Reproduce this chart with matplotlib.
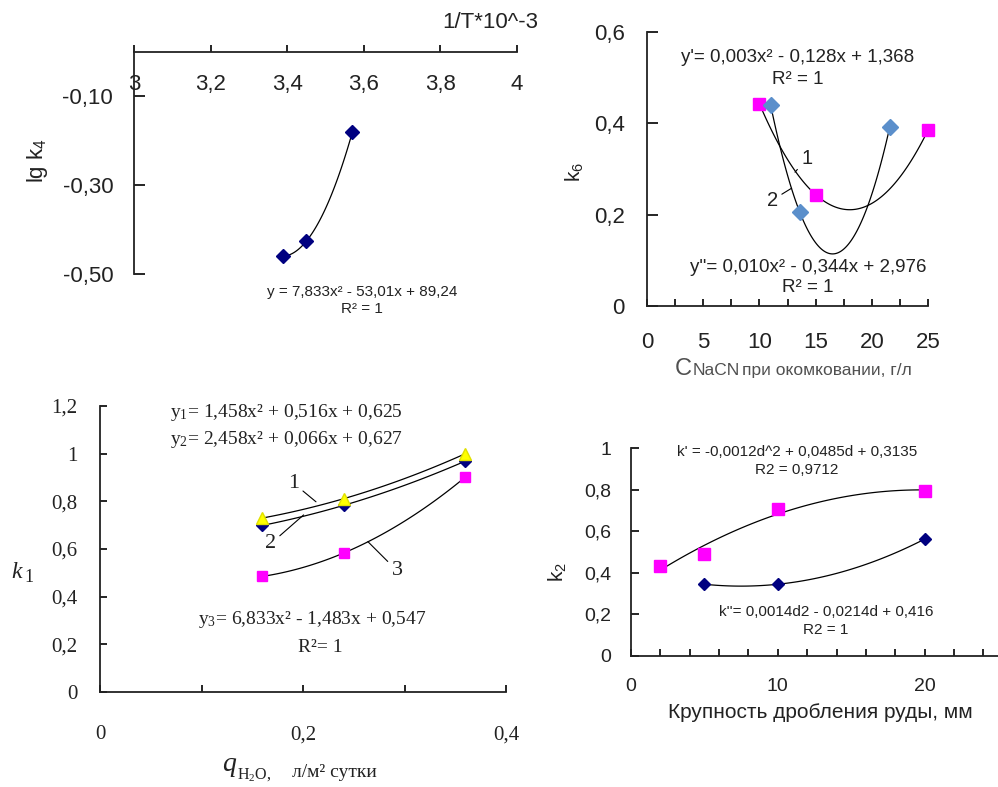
import numpy as np
import matplotlib
matplotlib.use('Agg')
import matplotlib.pyplot as plt

W, H = 998, 787

# top-left: lg k4 vs 1/T*10^-3
tl_x = [3.39, 3.45, 3.57]
tl_y = [-0.46, -0.426, -0.181]
tl_xticks = [3, 3.2, 3.4, 3.6, 3.8, 4]
tl_xticklabels = ['3', '3,2', '3,4', '3,6', '3,8', '4']
tl_yticks = [-0.5, -0.3, -0.1]
tl_yticklabels = ['-0,50', '-0,30', '-0,10']

# top-right: k6 vs C NaCN
tr_x1 = [10, 15, 25]
tr_y1 = [0.443, 0.244, 0.385]
tr_x2 = [11, 13.6, 21.6]
tr_y2 = [0.44, 0.205, 0.392]
tr_xticks = [0, 5, 10, 15, 20, 25]
tr_xminor = [2.5, 7.5, 12.5, 17.5, 22.5]
tr_yticks = [0, 0.2, 0.4, 0.6]
tr_yticklabels = ['0', '0,2', '0,4', '0,6']

# bottom-left: k1 vs q H2O
bl_x = [0.16, 0.24, 0.36]
bl_y1 = [0.73, 0.811, 1.0]
bl_y2 = [0.699, 0.783, 0.969]
bl_y3 = [0.485, 0.583, 0.902]
bl_xticks = [0, 0.2, 0.4]
bl_xticklabels = ['0', '0,2', '0,4']
bl_xminor = [0.1, 0.3]
bl_yticks = [0, 0.2, 0.4, 0.6, 0.8, 1, 1.2]
bl_yticklabels = ['0', '0,2', '0,4', '0,6', '0,8', '1', '1,2']

# bottom-right: k2 vs crushing size
br_d1 = [2, 5, 10, 20]
br_k1 = [0.435, 0.49, 0.706, 0.795]
br_d2 = [5, 10, 20]
br_k2 = [0.345, 0.345, 0.562]
br_xticks = [0, 10, 20]
br_xminor = [2, 4, 6, 8, 12, 14, 16, 18, 22, 24]
br_yticks = [0, 0.2, 0.4, 0.6, 0.8, 1]
br_yticklabels = ['0', '0,2', '0,4', '0,6', '0,8', '1']

plt.rcParams['font.family'] = ['Liberation Sans', 'DejaVu Sans']
plt.rcParams['mathtext.fontset'] = 'custom'
plt.rcParams['mathtext.rm'] = 'Liberation Serif'
plt.rcParams['mathtext.it'] = 'Liberation Serif:italic'

TXT = '#222222'
SERIF = ['Liberation Serif', 'DejaVu Serif']


def box(x0, y0, x1, y1):
    return [x0 / W, 1 - y1 / H, (x1 - x0) / W, (y1 - y0) / H]


def at(x, y):
    return x / W, 1 - y / H


def trend(ax, x, y):
    # quadratic trendline through the points
    c = np.polyfit(x, y, 2)
    xs = np.linspace(min(x), max(x), 120)
    ax.plot(xs, np.polyval(c, xs), color='black', lw=0.9, zorder=2)


def style(ax):
    for s in ['top', 'right']:
        ax.spines[s].set_visible(False)
    for s in ['left', 'bottom']:
        ax.spines[s].set_linewidth(1.3)
        ax.spines[s].set_color('#222222')
    ax.patch.set_alpha(0)


fig = plt.figure(figsize=(W / 100, H / 100), dpi=100)

# ---------------- top-left
ax = fig.add_axes(box(134, 52, 517, 274))
style(ax)
ax.spines['bottom'].set_position(('data', 0))
ax.set_xlim(3, 4)
ax.set_ylim(-0.5, 0)
ax.set_xticks(tl_xticks, tl_xticklabels)
ax.set_yticks(tl_yticks, tl_yticklabels)
ax.tick_params(axis='x', direction='in', length=5, width=1.2, pad=16, labelsize=16, labelcolor=TXT)
ax.tick_params(axis='y', direction='in', length=8, width=1.2, pad=15, labelsize=16, labelcolor=TXT)
trend(ax, tl_x, tl_y)
ax.plot(tl_x, tl_y, 'D', color='#000080', ms=7, zorder=3, clip_on=False)
fig.text(*at(538, 22), '1/T*10^-3', ha='right', va='center', fontsize=16, color=TXT)
fig.text(*at(38, 161), 'lg k$\\mathregular{_4}$', rotation=90, ha='center', va='center',
         fontsize=16, color=TXT)
fig.text(*at(362, 292), 'y = 7,833x² - 53,01x + 89,24', ha='center', va='center', fontsize=11, color=TXT)
fig.text(*at(362, 309), 'R² = 1', ha='center', va='center', fontsize=11, color=TXT)

# ---------------- top-right
ax = fig.add_axes(box(647, 32, 928, 306))
style(ax)
ax.set_xlim(0, 25)
ax.set_ylim(0, 0.6)
ax.set_xticks(tr_xticks)
ax.set_xticks(tr_xminor, minor=True)
ax.set_yticks(tr_yticks, tr_yticklabels)
ax.tick_params(axis='x', which='both', direction='in', length=5, width=1.2, pad=19, labelsize=16,
               labelcolor=TXT)
ax.tick_params(axis='y', direction='in', length=8, width=1.2, pad=16, labelsize=16, labelcolor=TXT)
trend(ax, tr_x1, tr_y1)
trend(ax, tr_x2, tr_y2)
ax.plot(tr_x1, tr_y1, 's', color='#FF00FF', ms=9, zorder=3, clip_on=False)
ax.plot(tr_x2, tr_y2, 'D', color='#5B8FCB', ms=8, zorder=3, clip_on=False)
ax.annotate('1', xy=(13.17, 0.293), xytext=(14.2, 0.323), fontsize=14.5, ha='center', va='center',
            color=TXT, arrowprops=dict(arrowstyle='-', lw=0.8, color='black', shrinkA=1, shrinkB=0))
ax.annotate('2', xy=(12.87, 0.258), xytext=(11.15, 0.232), fontsize=14.5, ha='center', va='center',
            color=TXT, arrowprops=dict(arrowstyle='-', lw=0.8, color='black', shrinkA=1, shrinkB=0))
fig.text(*at(798, 58), "y'= 0,003x² - 0,128x + 1,368", ha='center', va='center', fontsize=13.5, color=TXT)
fig.text(*at(798, 79), 'R² = 1', ha='center', va='center', fontsize=13.5, color=TXT)
fig.text(*at(808, 267), "y''= 0,010x² - 0,344x + 2,976", ha='center', va='center', fontsize=13.5, color=TXT)
fig.text(*at(808, 287), 'R² = 1', ha='center', va='center', fontsize=13.5, color=TXT)
fig.text(*at(575, 172), 'k$\\mathregular{_6}$', rotation=90, ha='center', va='center',
         fontsize=15, color=TXT)
fig.text(*at(675, 375), 'C', ha='left', va='baseline', fontsize=17, color='#505050')
fig.text(*at(693, 375), 'NaCN', ha='left', va='baseline', fontsize=12.5, color='#505050')
fig.text(*at(742, 375), 'при окомковании, г/л', ha='left', va='baseline', fontsize=12.5, color='#505050')

# ---------------- bottom-left
ax = fig.add_axes(box(100, 406, 506, 692))
style(ax)
ax.set_xlim(0, 0.4)
ax.set_ylim(0, 1.2)
ax.set_xticks(bl_xticks, bl_xticklabels)
ax.set_xticks(bl_xminor, minor=True)
ax.set_yticks(bl_yticks, bl_yticklabels)
ax.tick_params(axis='x', which='both', direction='in', length=5, width=1.2, pad=24, labelsize=15,
               labelcolor=TXT)
ax.tick_params(axis='y', direction='in', length=5, width=1.2, pad=16, labelsize=15, labelcolor=TXT)
for lab in ax.get_xticklabels() + ax.get_yticklabels():
    lab.set_family(SERIF)
trend(ax, bl_x, bl_y1)
trend(ax, bl_x, bl_y2)
trend(ax, bl_x, bl_y3)
ax.plot(bl_x, bl_y2, 'D', color='#000080', ms=6, zorder=3, clip_on=False)
ax.plot(bl_x, bl_y1, '^', color='#FFFF00', mec='#E0E000', ms=8, zorder=4, clip_on=False)
ax.plot(bl_x, bl_y3, 's', color='#FF00FF', ms=7.5, zorder=3, clip_on=False)
for lab, xy, xyt in [('1', (0.2128, 0.798), (0.1907, 0.876)),
                     ('2', (0.2006, 0.743), (0.1679, 0.621)),
                     ('3', (0.2639, 0.631), (0.2926, 0.509))]:
    ax.annotate(lab, xy=xy, xytext=xyt, fontsize=16, family=SERIF, ha='center', va='center', color=TXT,
                arrowprops=dict(arrowstyle='-', lw=0.8, color='black', shrinkA=1, shrinkB=0))
fig.text(*at(170, 412), 'y$\\mathregular{_1}$= 1,458x² + 0,516x + 0,625', ha='left', va='center',
         fontsize=14, family=SERIF, color=TXT)
fig.text(*at(170, 440), 'y$\\mathregular{_2}$= 2,458x² + 0,066x + 0,627', ha='left', va='center',
         fontsize=14, family=SERIF, color=TXT)
fig.text(*at(198, 620), 'y$\\mathregular{_3}$= 6,833x² - 1,483x + 0,547', ha='left', va='center',
         fontsize=14, family=SERIF, color=TXT)
fig.text(*at(320, 647), 'R²= 1', ha='center', va='center', fontsize=14, family=SERIF, color=TXT)
fig.text(*at(11, 572), '$k$', ha='left', va='center', fontsize=17, family=SERIF, color=TXT)
fig.text(*at(24, 578), '1', ha='left', va='center', fontsize=13, family=SERIF, color=TXT)
fig.text(*at(222, 771), '$q$', ha='left', va='baseline', fontsize=20, family=SERIF, color=TXT)
fig.text(*at(237, 779), 'H$\\mathregular{_2}$O,', ha='left', va='baseline', fontsize=11.5, family=SERIF,
         color=TXT)
fig.text(*at(292, 777), 'л/м² сутки', ha='left', va='baseline', fontsize=14, family=SERIF, color=TXT)

# ---------------- bottom-right
ax = fig.add_axes(box(631, 448, 998, 656))
style(ax)
ax.set_xlim(0, 25)
ax.set_ylim(0, 1)
ax.set_xticks(br_xticks)
ax.set_xticks(br_xminor, minor=True)
ax.set_yticks(br_yticks, br_yticklabels)
ax.tick_params(axis='x', which='both', direction='in', length=5, width=1.2, pad=16, labelsize=14,
               labelcolor=TXT)
ax.tick_params(axis='y', direction='in', length=6, width=1.2, pad=14, labelsize=14, labelcolor=TXT)
trend(ax, br_d1, br_k1)
trend(ax, br_d2, br_k2)
ax.plot(br_d1, br_k1, 's', color='#FF00FF', ms=9, zorder=3, clip_on=False)
ax.plot(br_d2, br_k2, 'D', color='#000080', ms=6.5, zorder=3, clip_on=False)
fig.text(*at(797, 452), "k' = -0,0012d^2 + 0,0485d + 0,3135", ha='center', va='center', fontsize=11,
         color=TXT)
fig.text(*at(797, 470), 'R2 = 0,9712', ha='center', va='center', fontsize=11, color=TXT)
fig.text(*at(826, 612), "k''= 0,0014d2 - 0,0214d + 0,416", ha='center', va='center', fontsize=11,
         color=TXT)
fig.text(*at(826, 630), 'R2 = 1', ha='center', va='center', fontsize=11, color=TXT)
fig.text(*at(820, 713), 'Крупность дробления руды, мм', ha='center', va='center', fontsize=15, color=TXT)
fig.text(*at(558, 572), 'k$\\mathregular{_2}$', rotation=90, ha='center', va='center',
         fontsize=15, color=TXT)

fig.savefig('out.png', dpi=100)
